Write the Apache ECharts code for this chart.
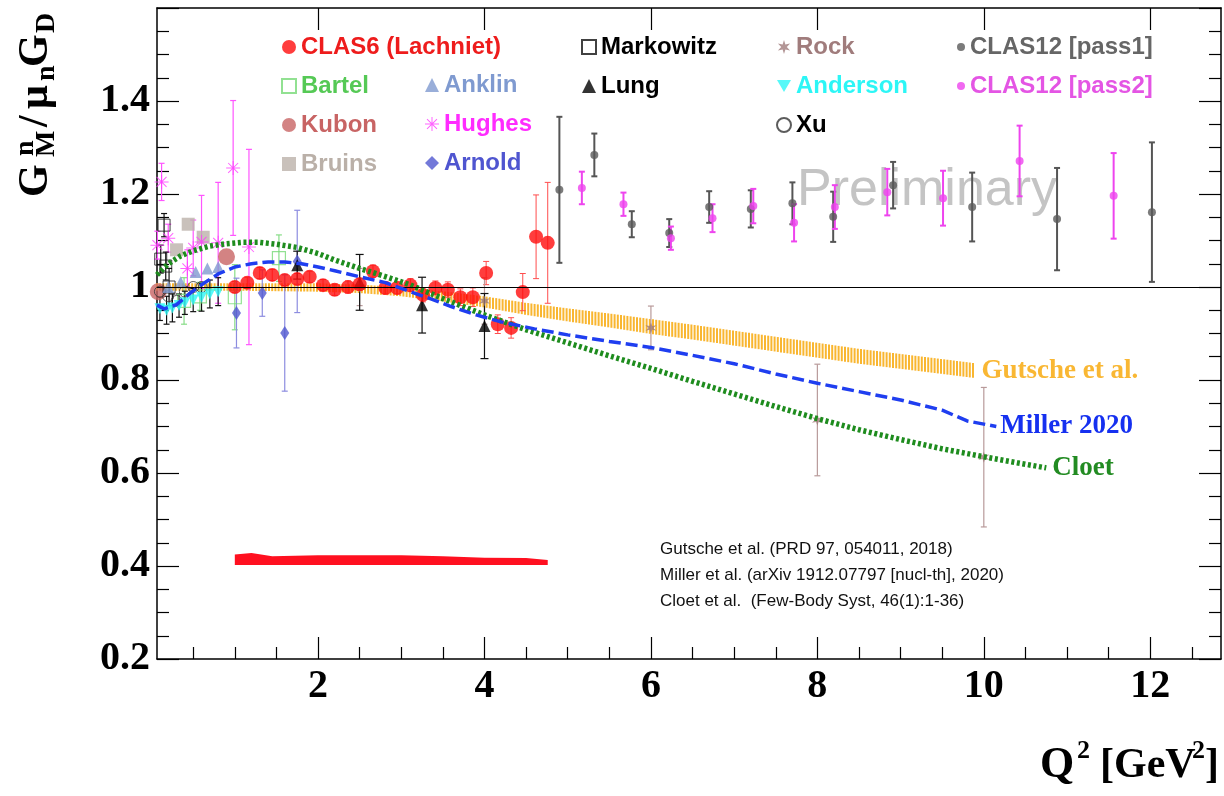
<!DOCTYPE html>
<html><head><meta charset="utf-8">
<script src="https://cdn.jsdelivr.net/npm/echarts@6/dist/echarts.min.js"></script>
<style>html,body{margin:0;padding:0;background:#fff}#c{width:1224px;height:796px}</style>
</head><body><div id="c"></div>
<script>
// ---------- DATA: [Q2, value, error] ----------
const clas6 = [[1.0,1.0,0.012],[1.15,1.009,0.012],[1.30,1.030,0.012],[1.45,1.026,0.012],[1.60,1.015,0.012],[1.75,1.017,0.012],[1.90,1.022,0.012],[2.06,1.004,0.012],[2.20,0.994,0.012],[2.36,1.0,0.013],[2.50,1.006,0.013],[2.66,1.034,0.013],[2.81,0.998,0.013],[2.95,0.998,0.013],[3.11,1.004,0.014],[3.26,0.983,0.015],[3.41,0.998,0.015],[3.56,0.994,0.017],[3.71,0.978,0.018],[3.86,0.978,0.02],[4.02,1.03,0.025],[4.16,0.92,0.02],[4.32,0.912,0.022],[4.46,0.989,0.04],[4.62,1.108,0.09],[4.76,1.095,0.13]];
const clas6Band = [[1.0,0.402,0.425],[1.2,0.402,0.428],[1.45,0.402,0.421],[2.0,0.402,0.423],[3.0,0.402,0.423],[3.5,0.402,0.421],[4.0,0.402,0.418],[4.5,0.402,0.417],[4.76,0.402,0.413]];
const bartel = [[0.39,0.97,0.05],[0.58,0.98,0.03],[1.0,0.978,0.07],[1.53,1.062,0.05]];
const kubon = [[0.08,0.99,0.01],[0.9,1.065,0.01]];
const bruins = [[0.3,1.08,0.03],[0.44,1.135,0.035],[0.62,1.107,0.02]];
const anklin = [[0.2,1.0,0.01],[0.35,1.01,0.01],[0.53,1.032,0.012],[0.67,1.04,0.012],[0.8,1.043,0.012]];
const hughes = [[0.07,1.09,0.03],[0.12,1.226,0.04],[0.2,1.105,0.03],[0.43,1.04,0.04],[0.5,1.084,0.06],[0.6,1.097,0.1],[0.8,1.095,0.13],[0.98,1.256,0.145],[1.17,1.086,0.21]];
const arnold = [[1.02,0.944,0.075],[1.33,0.987,0.05],[1.6,0.901,0.125],[1.75,1.055,0.11]];
const markowitz = [[0.11,1.06,0.03],[0.15,1.133,0.025],[0.17,1.045,0.03],[0.21,1.0,0.04]];
const lung = [[1.75,1.047,0.03],[2.5,1.01,0.06],[3.25,0.961,0.06],[4.0,0.916,0.07]];
const rock = [[2.5,1.0,0.04],[4.0,0.97,0.05],[6.0,0.912,0.047],[8.0,0.714,0.12],[10.0,0.634,0.15]];
const anderson = [[0.1,0.953,0.025],[0.18,0.95,0.03],[0.25,0.955,0.03],[0.33,0.96,0.025],[0.4,0.966,0.025],[0.5,0.972,0.025],[0.6,0.978,0.03],[0.7,0.985,0.03],[0.8,0.99,0.03]];
const xu = [[0.1,0.99,0.01],[0.2,0.98,0.01],[0.3,0.97,0.01],[0.4,0.99,0.01],[0.5,1.0,0.01],[0.6,1.0,0.01]];
const clas12p1 = [[4.90,1.209,0.157],[5.32,1.284,0.046],[5.77,1.135,0.028],[6.22,1.116,0.03],[6.70,1.172,0.034],[7.20,1.168,0.04],[7.70,1.180,0.045],[8.19,1.151,0.054],[8.91,1.219,0.05],[9.86,1.172,0.074],[10.88,1.146,0.11],[12.02,1.161,0.15]];
const clas12p2 = [[5.17,1.213,0.035],[5.67,1.178,0.025],[6.24,1.105,0.025],[6.74,1.148,0.03],[7.23,1.174,0.037],[7.72,1.138,0.04],[8.21,1.172,0.047],[8.84,1.204,0.05],[9.51,1.191,0.059],[10.43,1.271,0.076],[11.56,1.196,0.092]];
// theory curves [Q2, value] ; Gutsche [Q2, centre, half-width]
const gutsche = [[0.065,1.0,0.008],[1.0,1.0,0.008],[2.0,0.999,0.009],[2.5,0.996,0.009],[3.0,0.99,0.01],[3.5,0.98,0.011],[4.0,0.968,0.012],[4.5,0.953,0.013],[5.0,0.94,0.014],[5.5,0.928,0.015],[6.0,0.915,0.016],[6.5,0.903,0.016],[7.0,0.89,0.016],[7.5,0.877,0.016],[8.0,0.864,0.016],[8.5,0.851,0.016],[9.0,0.84,0.016],[9.5,0.829,0.016],[9.9,0.82,0.016]];
const miller = [[0.065,0.961],[0.15,0.953],[0.3,0.962],[0.45,0.985],[0.6,1.005],[0.8,1.028],[1.0,1.043],[1.2,1.05],[1.4,1.054],[1.6,1.054],[1.8,1.05],[2.0,1.043],[2.2,1.035],[2.5,1.022],[2.8,1.01],[3.0,0.997],[3.3,0.978],[3.6,0.958],[3.9,0.94],[4.2,0.925],[4.6,0.91],[5.0,0.897],[5.5,0.883],[6.0,0.87],[6.5,0.853],[7.0,0.835],[7.5,0.813],[8.0,0.793],[8.5,0.775],[9.0,0.757],[9.5,0.735],[9.8,0.712],[10.15,0.70]];
const cloet = [[0.065,1.026],[0.2,1.05],[0.35,1.067],[0.5,1.078],[0.7,1.088],[0.9,1.093],[1.1,1.096],[1.3,1.096],[1.5,1.092],[1.75,1.085],[2.0,1.072],[2.2,1.058],[2.5,1.04],[2.8,1.023],[3.1,1.005],[3.5,0.975],[4.0,0.94],[4.5,0.908],[5.0,0.88],[5.5,0.852],[6.0,0.825],[6.5,0.797],[7.0,0.77],[7.5,0.743],[8.0,0.717],[8.5,0.693],[9.0,0.672],[9.5,0.652],[10.0,0.635],[10.4,0.622],[10.75,0.611]];
// ticks
const xMajor = [2,4,6,8,10,12];
const xMinor = [0.5,1,1.5,2.5,3,3.5,4.5,5,5.5,6.5,7,7.5,8.5,9,9.5,10.5,11,11.5,12.5];
const refLines = ['Gutsche et al. (PRD 97, 054011, 2018)','Miller et al. (arXiv 1912.07797 [nucl-th], 2020)','Cloet et al.  (Few-Body Syst, 46(1):1-36)'];

// ---------- helpers ----------
const SERIF = '"Liberation Serif","Times New Roman",serif';
const SANS = '"Liberation Sans",Arial,sans-serif';
const XMIN = 0.065, XMAX = 12.85;
const asterisk = 'path://M9.3,0L10.7,0L10.7,20L9.3,20Z M0,9.3L20,9.3L20,10.7L0,10.7Z M2.4,3.4L3.4,2.4L17.6,16.6L16.6,17.6Z M16.6,2.4L17.6,3.4L3.4,17.6L2.4,16.6Z';
const star6 = 'path://M10,0L12,6.54L18.66,5L14,10L18.66,15L12,13.46L10,20L8,13.46L1.34,15L6,10L1.34,5L8,6.54Z';
const downTri = 'path://M0,0L20,0L10,17Z';

function errSeries(arr, color, lw, cap, extra) {
  return Object.assign({
    type: 'custom', data: arr, encode: {x: 0, y: 1}, z: 2, silent: true,
    renderItem: function (params, api) {
      const x = api.value(0), y = api.value(1), e = api.value(2);
      if (!e) return null;
      const t = api.coord([x, y + e]), b = api.coord([x, y - e]);
      const st = {stroke: color, lineWidth: lw};
      return {type: 'group', children: [
        {type: 'line', shape: {x1: t[0], y1: t[1], x2: b[0], y2: b[1]}, style: st},
        {type: 'line', shape: {x1: t[0] - cap, y1: t[1], x2: t[0] + cap, y2: t[1]}, style: st},
        {type: 'line', shape: {x1: b[0] - cap, y1: b[1], x2: b[0] + cap, y2: b[1]}, style: st}
      ]};
    }
  }, extra || {});
}
function ptSeries(name, arr, symbol, size, itemStyle) {
  return {type: 'scatter', name: name, data: arr.map(d => [d[0], d[1]]), symbol: symbol,
    symbolSize: size, itemStyle: itemStyle, z: 3, silent: true};
}
function interp(arr, x, k) {
  for (let i = 0; i < arr.length - 1; i++) {
    if (x >= arr[i][0] && x <= arr[i + 1][0]) {
      const f = (x - arr[i][0]) / (arr[i + 1][0] - arr[i][0]);
      return arr[i][k] + f * (arr[i + 1][k] - arr[i][k]);
    }
  }
  return arr[arr.length - 1][k];
}

const chart = echarts.init(document.getElementById('c'), null, {renderer: 'canvas'});

const legendText = {fontFamily: SANS, fontWeight: 'bold', fontSize: 24, lineHeight: 26};
function legendCol(left, top, items, iw) {
  return {left: left, top: top, orient: 'vertical', itemGap: 13, itemWidth: iw || 14, itemHeight: iw || 14,
    padding: 0, selectedMode: false, textStyle: legendText,
    data: items.map(it => ({name: it[0], textStyle: {color: it[1]}}))};
}

const series = [
  // Gutsche hatched band
  {type: 'custom', name: 'gutscheBand', data: gutsche, encode: {x: 0, y: 1}, z: 1, silent: true,
    renderItem: function (params, api) {
      if (params.dataIndex !== 0) return null;
      const x0 = api.coord([gutsche[0][0], 1])[0], x1 = api.coord([gutsche[gutsche.length - 1][0], 1])[0];
      const ch = [];
      for (let px = x0; px <= x1; px += 3.2) {
        const q = api.coord([0, 0])[0];
        const q2 = XMIN + (px - api.coord([XMIN, 1])[0]) / (api.coord([XMAX, 1])[0] - api.coord([XMIN, 1])[0]) * (XMAX - XMIN);
        const m = interp(gutsche, q2, 1), h = interp(gutsche, q2, 2);
        const t = api.coord([q2, m + h]), b = api.coord([q2, m - h]);
        ch.push({type: 'line', shape: {x1: px, y1: t[1], x2: px, y2: b[1]}, style: {stroke: '#f9b630', lineWidth: 2}});
      }
      return {type: 'group', children: ch};
    }},
  {type: 'line', name: 'gutscheLabel', data: gutsche.map(d => [d[0], d[1]]), showSymbol: false, silent: true,
    lineStyle: {opacity: 0}, z: 1,
    endLabel: {show: true, formatter: 'Gutsche et al.', color: '#f9b733', fontFamily: SERIF, fontWeight: 'bold', fontSize: 27, distance: 6}},
  // CLAS6 systematic band
  {type: 'custom', name: 'clasBand', data: clas6Band, encode: {x: 0, y: [1, 2]}, z: 2, silent: true,
    renderItem: function (params, api) {
      if (params.dataIndex !== 0) return null;
      const pts = [];
      clas6Band.forEach(d => pts.push(api.coord([d[0], d[2]])));
      for (let i = clas6Band.length - 1; i >= 0; i--) pts.push(api.coord([clas6Band[i][0], clas6Band[i][1]]));
      return {type: 'polygon', shape: {points: pts}, style: {fill: '#ff1020'}};
    }},
  // error bars
  errSeries(clas6, '#ff4d4d', 1, 3, {markLine: {silent: true, symbol: 'none', label: {show: false},
      lineStyle: {color: '#000', width: 1.2, type: 'solid'}, data: [{yAxis: 1}]}}),
  errSeries(clas12p1, '#555555', 2, 3),
  errSeries(clas12p2, '#ee44ee', 2, 3),
  errSeries(rock, '#b89a9a', 1.2, 3),
  errSeries(hughes, '#ff55ff', 1.2, 3),
  errSeries(bartel, '#88dd88', 1.2, 3),
  errSeries(arnold, '#8d8de0', 1.2, 3),
  errSeries(lung, '#111111', 1.2, 4),
  errSeries(markowitz, '#111111', 1.2, 3),
  errSeries(anderson, '#111111', 1.2, 3),
  // points
  ptSeries('Bartel', bartel, 'rect', 13, {color: 'rgba(255,255,255,0)', borderColor: '#77d977', borderWidth: 1.2}),
  ptSeries('Bruins', bruins, 'rect', 13, {color: '#bcb2aa'}),
  ptSeries('Kubon', kubon, 'circle', 17, {color: '#c86464'}),
  ptSeries('Markowitz', markowitz, 'rect', 12, {color: 'rgba(255,255,255,0)', borderColor: '#111', borderWidth: 1}),
  ptSeries('Xu', xu, 'circle', 11, {color: 'rgba(255,255,255,0)', borderColor: '#333', borderWidth: 1}),
  ptSeries('Anderson', anderson, downTri, 11, {color: '#2cf6f6'}),
  ptSeries('Anklin', anklin, 'triangle', 12, {color: '#7f9ad0'}),
  ptSeries('Hughes', hughes, asterisk, 14, {color: '#ff3cff'}),
  ptSeries('Arnold', arnold, 'diamond', [9, 14], {color: '#5058d0'}),
  ptSeries('Rock', rock, star6, 11, {color: '#a07c7c'}),
  ptSeries('Lung', lung, 'triangle', 12, {color: '#000'}),
  ptSeries('CLAS6 (Lachniet)', clas6, 'circle', 14, {color: '#ff0d0d'}),
  ptSeries('CLAS12 [pass1]', clas12p1, 'circle', 8, {color: '#5a5a5a'}),
  ptSeries('CLAS12 [pass2]', clas12p2, 'circle', 8, {color: '#ee44ee'}),
  // theory lines
  {type: 'line', name: 'Cloet', data: cloet, showSymbol: false, silent: true, z: 4,
    lineStyle: {color: '#1e8c1e', width: 5.5, type: [3, 2.6], cap: 'butt'},
    endLabel: {show: true, formatter: 'Cloet', color: '#228b22', fontFamily: SERIF, fontWeight: 'bold', fontSize: 27, distance: 6}},
  {type: 'line', name: 'Miller', data: miller, showSymbol: false, silent: true, z: 5,
    lineStyle: {color: '#1f3ef0', width: 3.5, type: [12, 5], cap: 'butt'},
    endLabel: {show: true, formatter: 'Miller 2020', color: '#1530f0', fontFamily: SERIF, fontWeight: 'bold', fontSize: 27, distance: 4}}
];

const axisLineStyle = {color: '#000', width: 1.5};
const option = {
  animation: false,
  backgroundColor: '#fff',
  grid: {left: 157, right: 3, top: 8, bottom: 137, containLabel: false},
  xAxis: [
    {type: 'value', min: XMIN, max: XMAX, position: 'bottom', splitLine: {show: false},
      axisLine: {show: true, lineStyle: axisLineStyle},
      axisTick: {show: true, inside: true, length: 22, customValues: xMajor, lineStyle: {color: '#000', width: 1.2}},
      axisLabel: {customValues: xMajor, margin: 8, color: '#000', fontFamily: SERIF, fontWeight: 'bold', fontSize: 40}},
    {type: 'value', min: XMIN, max: XMAX, position: 'bottom', splitLine: {show: false},
      axisLine: {show: false},
      axisTick: {show: true, inside: true, length: 12, customValues: xMinor, lineStyle: {color: '#000', width: 1.2}},
      axisLabel: {show: false}},
    {type: 'value', min: XMIN, max: XMAX, position: 'top', splitLine: {show: false},
      axisLine: {show: true, lineStyle: axisLineStyle},
      axisTick: {show: true, inside: true, length: 22, customValues: xMajor, lineStyle: {color: '#000', width: 1.2}},
      axisLabel: {show: false}}
  ],
  yAxis: [
    {type: 'value', min: 0.2, max: 1.6, interval: 0.2, position: 'left', splitLine: {show: false},
      axisLine: {show: true, lineStyle: axisLineStyle},
      axisTick: {show: true, inside: true, length: 22, lineStyle: {color: '#000', width: 1.2}},
      minorTick: {show: true, splitNumber: 4, length: 12, lineStyle: {color: '#000', width: 1.2}},
      axisLabel: {margin: 7, showMaxLabel: false, color: '#000', fontFamily: SERIF, fontWeight: 'bold', fontSize: 40,
        formatter: v => String(Math.round(v * 10) / 10)}},
    {type: 'value', min: 0.2, max: 1.6, interval: 0.2, position: 'right', splitLine: {show: false},
      axisLine: {show: true, lineStyle: axisLineStyle},
      axisTick: {show: true, inside: true, length: 22, lineStyle: {color: '#000', width: 1.2}},
      minorTick: {show: true, splitNumber: 4, length: 12, lineStyle: {color: '#000', width: 1.2}},
      axisLabel: {show: false}}
  ],
  legend: [
    legendCol(281, 34, [['CLAS6 (Lachniet)', '#ee1c1c'], ['Bartel', '#55c955'], ['Kubon', '#c86464'], ['Bruins', '#bab0a8']]),
    legendCol(425, 72, [['Anklin', '#7f9ad0'], ['Hughes', '#ff2cff'], ['Arnold', '#4f55d0']]),
    legendCol(581, 34, [['Markowitz', '#000'], ['Lung', '#000']]),
    legendCol(776, 34, [['Rock', '#a07c7c'], ['Anderson', '#2cf6f6'], ['Xu', '#000']]),
    legendCol(957, 34, [['CLAS12 [pass1]', '#666666'], ['CLAS12 [pass2]', '#e455e4']], 8)
  ],
  graphic: [
    {type: 'text', left: 797, top: 165, z: 0, silent: true,
      style: {text: 'Preliminary', font: '52px ' + SANS, fill: '#c4c4c4'}},
    {type: 'group', left: 660, top: 541, silent: true, children: refLines.map((t, i) => ({
      type: 'text', x: 0, y: i * 26, style: {text: t, font: '17px ' + SANS, fill: '#111'}}))},
    // y-axis title (rotated)
    {type: 'group', x: 50, y: 200, rotation: Math.PI / 2, silent: true, children: [
      {type: 'text', x: 3, y: -14, style: {text: 'G', font: 'bold 42px ' + SERIF, fill: '#000', verticalAlign: 'middle'}},
      {type: 'text', x: 44, y: -24, style: {text: 'n', font: 'bold 28px ' + SERIF, fill: '#000', verticalAlign: 'middle'}},
      {type: 'text', x: 43, y: -3, style: {text: 'M', font: 'bold 28px ' + SERIF, fill: '#000', verticalAlign: 'middle'}},
      {type: 'text', x: 73, y: -14, style: {text: '/', font: 'bold 42px ' + SERIF, fill: '#000', verticalAlign: 'middle'}},
      {type: 'text', x: 91, y: -14, style: {text: 'μ', font: 'bold 42px ' + SERIF, fill: '#000', verticalAlign: 'middle'}},
      {type: 'text', x: 119, y: -3, style: {text: 'n', font: 'bold 28px ' + SERIF, fill: '#000', verticalAlign: 'middle'}},
      {type: 'text', x: 133, y: -14, style: {text: 'G', font: 'bold 42px ' + SERIF, fill: '#000', verticalAlign: 'middle'}},
      {type: 'text', x: 167, y: -3, style: {text: 'D', font: 'bold 28px ' + SERIF, fill: '#000', verticalAlign: 'middle'}}
    ]},
    // x-axis title
    {type: 'group', x: 1040, y: 780, silent: true, children: [
      {type: 'text', x: 0, y: -14, style: {text: 'Q', font: 'bold 44px ' + SERIF, fill: '#000', verticalAlign: 'middle'}},
      {type: 'text', x: 37, y: -29, style: {text: '2', font: 'bold 26px ' + SERIF, fill: '#000', verticalAlign: 'middle'}},
      {type: 'text', x: 60, y: -14, style: {text: '[GeV', font: 'bold 42px ' + SERIF, fill: '#000', verticalAlign: 'middle'}},
      {type: 'text', x: 152, y: -29, style: {text: '2', font: 'bold 26px ' + SERIF, fill: '#000', verticalAlign: 'middle'}},
      {type: 'text', x: 165, y: -14, style: {text: ']', font: 'bold 42px ' + SERIF, fill: '#000', verticalAlign: 'middle'}}
    ]}
  ],
  series: series
};
chart.setOption(option);
</script>
</body></html>
